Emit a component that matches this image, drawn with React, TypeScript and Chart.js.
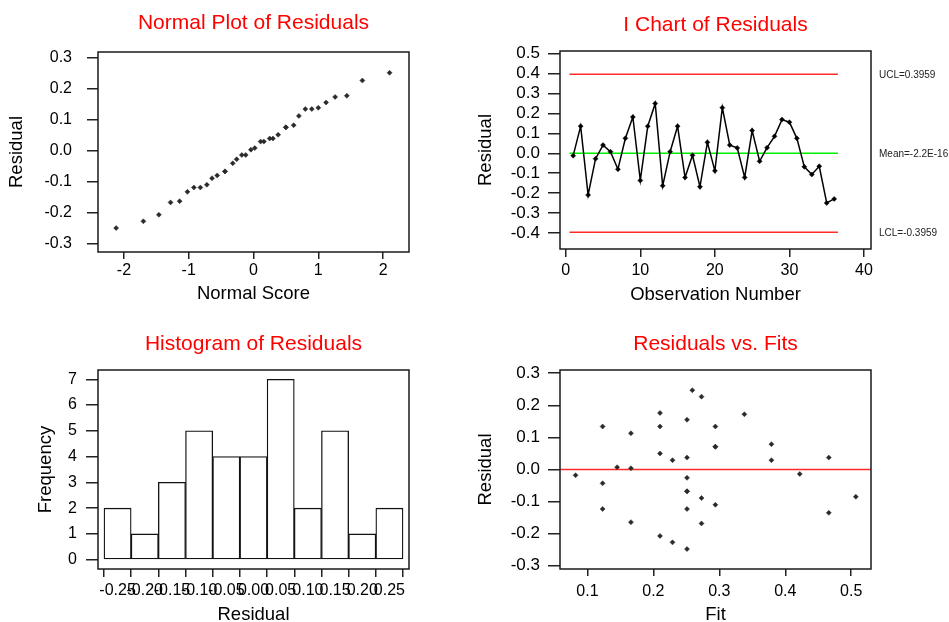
import React, { useEffect, useRef } from "react";
import { Chart, registerables } from "chart.js";

Chart.register(...registerables);

const FONT = "'Liberation Sans', Arial, Helvetica, sans-serif";

// ---------- Normal plot of residuals ----------
const normalScores = [
  -2.12, -1.7, -1.46, -1.28, -1.14, -1.02, -0.92, -0.82, -0.72, -0.64, -0.56, -0.44,
  -0.44, -0.32, -0.26, -0.18, -0.12, -0.04, 0.02, 0.11, 0.16, 0.25, 0.3, 0.38,
  0.5, 0.5, 0.62, 0.7, 0.8, 0.9, 1.0, 1.12, 1.26, 1.44, 1.68, 2.1,
];
const normalResiduals = [
  -0.249, -0.227, -0.206, -0.166, -0.162, -0.132, -0.118, -0.118, -0.109, -0.088, -0.079, -0.066,
  -0.066, -0.04, -0.027, -0.013, -0.013, 0.004, 0.009, 0.03, 0.03, 0.04, 0.04, 0.052,
  0.076, 0.076, 0.083, 0.113, 0.135, 0.135, 0.139, 0.156, 0.174, 0.178, 0.227, 0.252,
];
const normalXTicks = [-2, -1, 0, 1, 2];
const normalYTicks = [-0.3, -0.2, -0.1, 0, 0.1, 0.2, 0.3];

// ---------- I chart of residuals ----------
const observationResiduals = [
  -0.012, 0.136, -0.209, -0.027, 0.041, 0.008, -0.08, 0.075, 0.182, -0.136, 0.136, 0.25,
  -0.163, 0.008, 0.136, -0.121, -0.01, -0.168, 0.055, -0.088, 0.229, 0.041, 0.027, -0.121,
  0.114, -0.04, 0.028, 0.085, 0.169, 0.156, 0.075, -0.068, -0.106, -0.065, -0.249, -0.229,
];
const observationNumbers = observationResiduals.map((_, i) => i + 1);
const iChartXTicks = [0, 10, 20, 30, 40];
const iChartYTicks = [-0.4, -0.3, -0.2, -0.1, 0, 0.1, 0.2, 0.3, 0.4, 0.5];
const uclValue = 0.3959;
const meanValue = -2.2e-16;
const lclValue = -0.3959;
const controlValues = [uclValue, meanValue, lclValue];
const controlLabels = ["UCL=0.3959", "Mean=-2.2E-16", "LCL=-0.3959"];
const controlSpan = [0.5, 36.5];

// ---------- Histogram of residuals ----------
const binCenters = [-0.25, -0.2, -0.15, -0.1, -0.05, 0, 0.05, 0.1, 0.15, 0.2, 0.25];
const frequencies = [2, 1, 3, 5, 4, 4, 7, 2, 5, 1, 2];
const histYTicks = [0, 1, 2, 3, 4, 5, 6, 7];

// ---------- Residuals vs fits ----------
const fitValues = [
  0.082, 0.123, 0.123, 0.123, 0.145, 0.166, 0.166, 0.166, 0.21, 0.21, 0.21, 0.21,
  0.229, 0.229, 0.251, 0.251, 0.251, 0.251, 0.251, 0.251, 0.251, 0.259, 0.273, 0.273,
  0.273, 0.294, 0.294, 0.294, 0.294, 0.338, 0.379, 0.379, 0.422, 0.466, 0.466, 0.507,
];
const fitResiduals = [
  -0.018, 0.134, -0.043, -0.123, 0.007, 0.113, 0.004, -0.164, 0.176, 0.134, 0.05, -0.207,
  0.029, -0.227, 0.155, 0.037, -0.026, -0.068, -0.068, -0.123, -0.248, 0.247, 0.227, -0.089,
  -0.168, 0.134, 0.071, 0.071, -0.11, 0.172, 0.079, 0.029, -0.014, 0.037, -0.135, -0.085,
];
const fitXTicks = [0.1, 0.2, 0.3, 0.4, 0.5];
const fitYTicks = [-0.3, -0.2, -0.1, 0, 0.1, 0.2, 0.3];
const fitReferenceValue = 0;

// ---------- helpers ----------
type AxisOpts = {
  axis: "x" | "y";
  min: number;
  max: number;
  ticks: number[];
  fmt: (v: number) => string;
  size: number;
  tickLength: number;
  pad: number;
  fontSize: number;
  title: string;
  titlePad: number;
};

function makeScale(o: AxisOpts): any {
  return {
    type: "linear",
    position: o.axis === "x" ? "bottom" : "left",
    min: o.min,
    max: o.max,
    offset: false,
    afterBuildTicks: (s: any) => {
      s.ticks = o.ticks.map((v) => ({ value: v }));
    },
    afterFit: (s: any) => {
      if (o.axis === "x") s.height = o.size;
      else s.width = o.size;
    },
    ticks: {
      autoSkip: false,
      maxRotation: 0,
      minRotation: 0,
      padding: o.pad,
      color: "#000",
      font: { family: FONT, size: o.fontSize },
      callback: (v: any) => o.fmt(Number(v)),
    },
    grid: {
      drawOnChartArea: false,
      drawTicks: true,
      tickLength: o.tickLength,
      color: "#222",
      lineWidth: 1.5,
    },
    border: { display: false },
    title: {
      display: true,
      text: o.title,
      color: "#000",
      font: { family: FONT, size: 18.5 },
      padding: o.axis === "x" ? { top: 0, bottom: o.titlePad } : { top: o.titlePad, bottom: 0 },
    },
  };
}

const framePlugin = {
  id: "frame",
  afterDatasetsDraw(chart: any) {
    const { ctx, chartArea: a } = chart;
    ctx.save();
    ctx.strokeStyle = "#1a1a1a";
    ctx.lineWidth = 1.5;
    ctx.strokeRect(a.left, a.top, a.right - a.left, a.bottom - a.top);
    ctx.restore();
  },
};

function titlePlugin(text: string, baselineOffset: number) {
  return {
    id: "panelTitle",
    afterDraw(chart: any) {
      const { ctx, chartArea: a } = chart;
      ctx.save();
      ctx.font = `21px ${FONT}`;
      ctx.fillStyle = "#ff0000";
      ctx.textAlign = "center";
      ctx.textBaseline = "alphabetic";
      ctx.fillText(text, (a.left + a.right) / 2, a.top - baselineOffset);
      ctx.restore();
    },
  };
}

const controlLabelPlugin = {
  id: "controlLabels",
  afterDraw(chart: any) {
    const { ctx, chartArea: a } = chart;
    const y = chart.scales.y;
    ctx.save();
    ctx.font = `10px ${FONT}`;
    ctx.fillStyle = "#222";
    ctx.textAlign = "left";
    ctx.textBaseline = "middle";
    controlValues.forEach((v, i) => {
      ctx.fillText(controlLabels[i], a.right + 8, y.getPixelForValue(v) + 1);
    });
    ctx.restore();
  },
};

const referenceLinePlugin = {
  id: "refLine",
  beforeDatasetsDraw(chart: any) {
    const { ctx, chartArea: a } = chart;
    const py = chart.scales.y.getPixelForValue(fitReferenceValue);
    ctx.save();
    ctx.strokeStyle = "#ff2a2a";
    ctx.lineWidth = 1.5;
    ctx.beginPath();
    ctx.moveTo(a.left, py);
    ctx.lineTo(a.right, py);
    ctx.stroke();
    ctx.restore();
  },
};

const pointStyle = {
  pointStyle: "rectRot",
  pointRadius: 2.5,
  pointBackgroundColor: "#2a2a2a",
  pointBorderColor: "#2a2a2a",
  pointBorderWidth: 0.5,
};

const baseOptions = {
  animation: false,
  responsive: false,
  maintainAspectRatio: false,
  events: [],
  plugins: { legend: { display: false }, tooltip: { enabled: false }, title: { display: false } },
};

// ---------- chart configs ----------
function normalConfig(): any {
  return {
    type: "scatter",
    data: {
      datasets: [
        {
          data: normalScores.map((x, i) => ({ x, y: normalResiduals[i] })),
          showLine: false,
          ...pointStyle,
        },
      ],
    },
    options: {
      ...baseOptions,
      layout: { padding: { left: 0, right: 66, top: 52, bottom: 0 } },
      scales: {
        x: makeScale({
          axis: "x", min: -2.4, max: 2.4, ticks: normalXTicks, fmt: (v) => String(v),
          size: 59, tickLength: 7, pad: 2, fontSize: 16, title: "Normal Score", titlePad: 6,
        }),
        y: makeScale({
          axis: "y", min: -0.326, max: 0.319, ticks: normalYTicks, fmt: (v) => v.toFixed(1),
          size: 98, tickLength: 11, pad: 15, fontSize: 16, title: "Residual", titlePad: 6,
        }),
      },
    },
    plugins: [framePlugin, titlePlugin("Normal Plot of Residuals", 23)],
  };
}

function iChartConfig(): any {
  const limitLine = (v: number, color: string) => ({
    data: controlSpan.map((x) => ({ x, y: v })),
    showLine: true,
    borderColor: color,
    borderWidth: 1.5,
    pointRadius: 0,
  });
  return {
    type: "scatter",
    data: {
      datasets: [
        {
          data: observationNumbers.map((x, i) => ({ x, y: observationResiduals[i] })),
          showLine: true,
          borderColor: "#000",
          borderWidth: 1.5,
          ...pointStyle,
          pointBackgroundColor: "#000",
          pointBorderColor: "#000",
        },
        limitLine(meanValue, "#00f000"),
        limitLine(uclValue, "#ff2a2a"),
        limitLine(lclValue, "#ff2a2a"),
      ],
    },
    options: {
      ...baseOptions,
      layout: { padding: { left: 0, right: 78, top: 51, bottom: 0 } },
      scales: {
        x: makeScale({
          axis: "x", min: -0.77, max: 40.94, ticks: iChartXTicks, fmt: (v) => String(v),
          size: 62, tickLength: 8, pad: 4, fontSize: 16, title: "Observation Number", titlePad: 5,
        }),
        y: makeScale({
          axis: "y", min: -0.48, max: 0.513, ticks: iChartYTicks, fmt: (v) => v.toFixed(1),
          size: 85, tickLength: 12, pad: 8, fontSize: 17, title: "Residual", titlePad: 0,
        }),
      },
    },
    plugins: [framePlugin, controlLabelPlugin, titlePlugin("I Chart of Residuals", 20)],
  };
}

function histConfig(): any {
  return {
    type: "bar",
    data: {
      datasets: [
        {
          data: binCenters.map((x, i) => ({ x, y: frequencies[i] })),
          backgroundColor: "#ffffff",
          borderColor: "#111111",
          borderWidth: 1.3,
          borderSkipped: false,
          barPercentage: 1,
          categoryPercentage: 1,
        },
      ],
    },
    options: {
      ...baseOptions,
      layout: { padding: { left: 0, right: 66, top: 59, bottom: 0 } },
      scales: {
        x: makeScale({
          axis: "x", min: -0.286, max: 0.286, ticks: binCenters, fmt: (v) => v.toFixed(2),
          size: 53, tickLength: 8, pad: 4, fontSize: 16, title: "Residual", titlePad: -4,
        }),
        y: makeScale({
          axis: "y", min: -0.36, max: 7.36, ticks: histYTicks, fmt: (v) => String(v),
          size: 98, tickLength: 12, pad: 9, fontSize: 16, title: "Frequency", titlePad: 35,
        }),
      },
    },
    plugins: [framePlugin, titlePlugin("Histogram of Residuals", 20)],
  };
}

function fitsConfig(): any {
  return {
    type: "scatter",
    data: {
      datasets: [
        {
          data: fitValues.map((x, i) => ({ x, y: fitResiduals[i] })),
          showLine: false,
          ...pointStyle,
        },
      ],
    },
    options: {
      ...baseOptions,
      layout: { padding: { left: 0, right: 78, top: 59, bottom: 0 } },
      scales: {
        x: makeScale({
          axis: "x", min: 0.0584, max: 0.53, ticks: fitXTicks, fmt: (v) => v.toFixed(1),
          size: 53, tickLength: 7, pad: 6, fontSize: 16, title: "Fit", titlePad: -4,
        }),
        y: makeScale({
          axis: "y", min: -0.31, max: 0.31, ticks: fitYTicks, fmt: (v) => v.toFixed(1),
          size: 85, tickLength: 12, pad: 8, fontSize: 17, title: "Residual", titlePad: 0,
        }),
      },
    },
    plugins: [framePlugin, referenceLinePlugin, titlePlugin("Residuals vs. Fits", 20)],
  };
}

function Panel(props: { left: number; top: number; width: number; height: number; make: () => any }) {
  const ref = useRef<HTMLCanvasElement>(null);
  useEffect(() => {
    const chart = new Chart(ref.current as HTMLCanvasElement, props.make());
    return () => chart.destroy();
  }, []);
  return (
    <div style={{ position: "absolute", left: props.left, top: props.top, width: props.width, height: props.height }}>
      <canvas
        ref={ref}
        width={props.width}
        height={props.height}
        style={{ display: "block", width: props.width, height: props.height }}
      />
    </div>
  );
}

export default function App() {
  return (
    <div style={{ position: "absolute", left: 0, top: 0, width: 949, height: 622, background: "#fff" }}>
      <Panel left={0} top={0} width={475} height={311} make={normalConfig} />
      <Panel left={475} top={0} width={474} height={311} make={iChartConfig} />
      <Panel left={0} top={311} width={475} height={311} make={histConfig} />
      <Panel left={475} top={311} width={474} height={311} make={fitsConfig} />
    </div>
  );
}
